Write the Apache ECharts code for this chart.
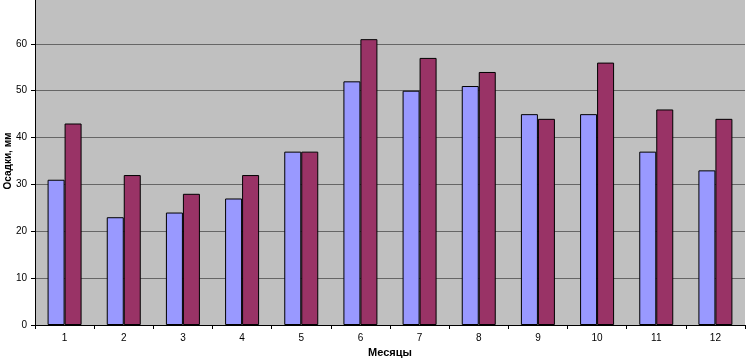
<!DOCTYPE html>
<html>
<head>
<meta charset="utf-8">
<script src="https://cdn.jsdelivr.net/npm/echarts@6/dist/echarts.min.js"></script>
<style>html,body{margin:0;padding:0;background:#fff;}#c{width:747px;height:359px;}</style>
</head>
<body>
<div id="c"></div>
<script>
const categories = ['1','2','3','4','5','6','7','8','9','10','11','12'];
const seriesA = [31, 23, 24, 27, 37, 52, 50, 51, 45, 45, 37, 33];
const seriesB = [43, 32, 28, 32, 37, 61, 57, 54, 44, 56, 46, 44];
const yTicks = [0, 10, 20, 30, 40, 50, 60, 70];

const chart = echarts.init(document.getElementById('c'), null, {renderer: 'canvas'});
const font = 'Liberation Sans, Arial, sans-serif';
chart.setOption({
  animation: false,
  backgroundColor: '#ffffff',
  grid: {left: 35, right: 2, top: -3, bottom: 34, show: true, backgroundColor: '#C0C0C0', borderWidth: 0,
         containLabel: false, outerBoundsMode: 'none'},
  xAxis: {
    type: 'category',
    data: categories,
    name: 'Месяцы',
    nameLocation: 'middle',
    nameGap: 22,
    nameMoveOverlap: false,
    nameTextStyle: {fontFamily: font, fontSize: 11, fontWeight: 'bold', color: '#000'},
    axisLine: {lineStyle: {color: '#000', width: 1}},
    axisTick: {show: true, alignWithLabel: false, length: 4, lineStyle: {color: '#000'}},
    axisLabel: {fontFamily: font, fontSize: 10, color: '#000', margin: 8}
  },
  yAxis: {
    type: 'value',
    min: yTicks[0],
    max: yTicks[yTicks.length - 1],
    interval: 10,
    name: 'Осадки, мм',
    nameLocation: 'middle',
    nameGap: 22,
    nameMoveOverlap: false,
    nameRotate: 90,
    nameTextStyle: {fontFamily: font, fontSize: 10, fontWeight: 'bold', color: '#000'},
    axisLine: {show: true, lineStyle: {color: '#000', width: 1}},
    axisTick: {show: true, length: 4, lineStyle: {color: '#000'}},
    axisLabel: {fontFamily: font, fontSize: 10, color: '#000', margin: 8,
      formatter: v => (v === 70 ? '' : String(v))},
    splitLine: {show: true, lineStyle: {color: '#666666', width: 1}}
  },
  series: [
    {type: 'bar', data: seriesA, barWidth: 17, barGap: '0%',
     itemStyle: {color: '#9999FF', borderColor: '#000', borderWidth: 1}},
    {type: 'bar', data: seriesB, barWidth: 17, barGap: '0%',
     itemStyle: {color: '#993366', borderColor: '#000', borderWidth: 1}}
  ]
});
</script>
</body>
</html>
